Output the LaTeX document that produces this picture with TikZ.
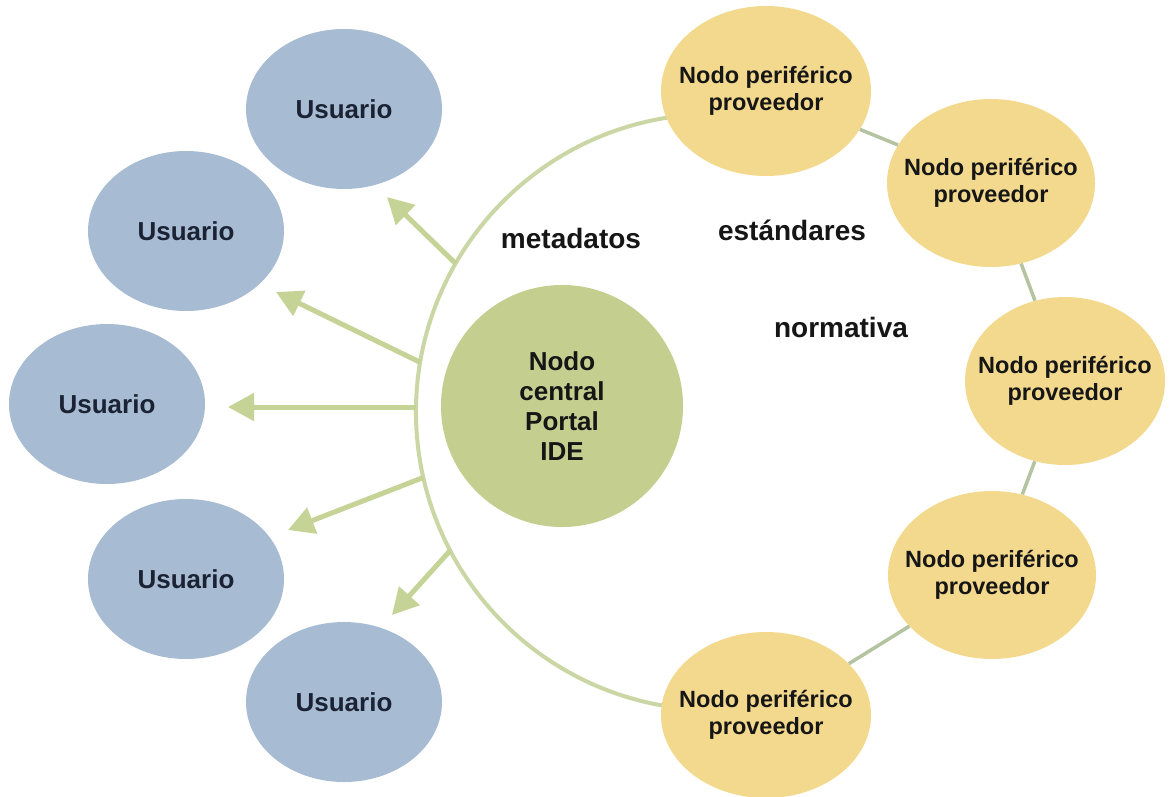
\documentclass[tikz,border=0pt]{standalone}
\usepackage{fontspec}
\setmainfont{Liberation Sans}
\usetikzlibrary{shapes.geometric,arrows.meta}
\definecolor{ublue}{HTML}{A7BCD2}
\definecolor{pyellow}{HTML}{F3D98D}
\definecolor{cgreen}{HTML}{C4CE8E}
\definecolor{arcgreen}{HTML}{CBD6A5}
\definecolor{arrgreen}{HTML}{C5D396}
\definecolor{lnkgreen}{HTML}{B4C3A0}
\definecolor{utext}{HTML}{1B2234}
\definecolor{dtext}{HTML}{161616}
\tikzset{
  usernode/.style={ellipse,fill=ublue,inner sep=0pt,minimum width=196pt,minimum height=160pt,
    font=\bfseries\fontsize{26}{30}\selectfont,text=utext},
  provnode/.style={ellipse,fill=pyellow,inner sep=0pt,minimum width=#1},
  ptext/.style={font=\bfseries\fontsize{23.5}{27}\selectfont,text=dtext,align=center},
  centralnode/.style={circle,fill=cgreen,inner sep=0pt,minimum size=242pt,
    font=\bfseries\fontsize{26}{30}\selectfont,text=dtext,align=center},
  lbl/.style={font=\bfseries\fontsize{28}{32}\selectfont,text=dtext},
  arcline/.style={draw=arcgreen,line width=4pt},
  linkline/.style={draw=lnkgreen,line width=3.5pt},
  userarrow/.style={draw=arrgreen,line width=5pt,-{Triangle[length=26pt,width=27pt]}}
}
\begin{document}
\begin{tikzpicture}[x=1pt,y=-1pt]
\useasboundingbox[fill=white] (0,0) rectangle (1169,796);
% big arc
\draw[arcline] (688,115.1) arc[start angle=-95,end angle=-265,radius=298];
% arc points and arrow tips
\coordinate (a1s) at (455.6,263.5); \coordinate (a1e) at (387,197);
\coordinate (a2s) at (420.2,362.3); \coordinate (a2e) at (276,292);
\coordinate (a3s) at (416,407);     \coordinate (a3e) at (228,407);
\coordinate (a4s) at (423.3,477.5); \coordinate (a4e) at (288,530);
\coordinate (a5s) at (450.2,550.5); \coordinate (a5e) at (392,615);
\foreach \i in {1,...,5}{\draw[userarrow] (a\i s) -- (a\i e);}
% provider nodes
\node[provnode=210pt,minimum height=170pt,label={[ptext]center:Nodo periférico\\proveedor}] (p1) at (766,91) {};
\node[provnode=208pt,minimum height=168pt,label={[ptext]center:Nodo periférico\\proveedor}] (p2) at (991,183) {};
\node[provnode=200pt,minimum height=168pt,label={[ptext]center:Nodo periférico\\proveedor}] (p3) at (1065,381) {};
\node[provnode=208pt,minimum height=168pt,label={[ptext]center:Nodo periférico\\proveedor}] (p4) at (992,575) {};
\node[provnode=210pt,minimum height=166pt,label={[ptext]center:Nodo periférico\\proveedor}] (p5) at (766,715) {};
% user nodes
\node[usernode] (u1) at (344,109) {Usuario};
\node[usernode] (u2) at (186,231) {Usuario};
\node[usernode] (u3) at (107,404) {Usuario};
\node[usernode] (u4) at (186,579) {Usuario};
\node[usernode] (u5) at (344,702) {Usuario};
% central node
\node[centralnode] (c) at (562,406) {Nodo\\central\\Portal\\IDE};
% labels
\node[lbl] (lm) at (571,238) {metadatos};
\node[lbl] (le) at (792,230) {estándares};
\node[lbl] (ln) at (841,327) {normativa};
% links between providers
\draw[linkline] (p1) -- (p2);
\draw[linkline] (p2) -- (p3);
\draw[linkline] (p3) -- (p4);
\draw[linkline] (p4) -- (p5);
\end{tikzpicture}
\end{document}
